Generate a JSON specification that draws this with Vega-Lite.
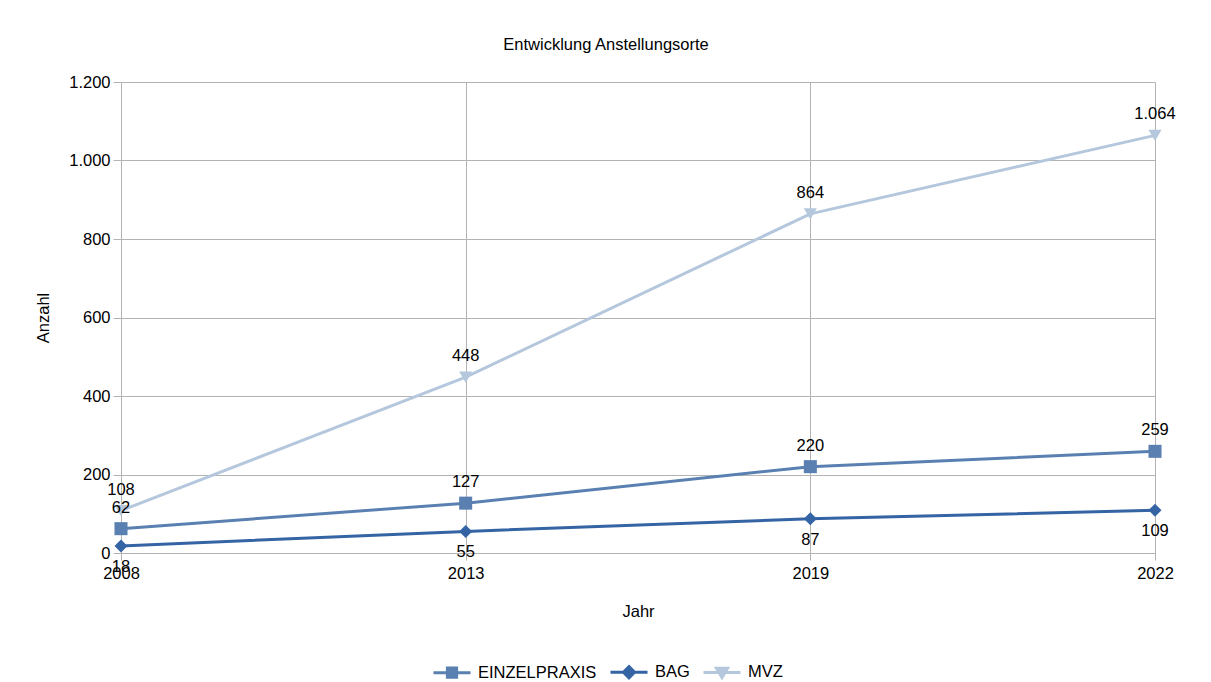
{
  "$schema": "https://vega.github.io/schema/vega-lite/v6.json",
  "width": 1034,
  "height": 471,
  "autosize": "none",
  "padding": {"left": 121, "top": 82, "right": 56, "bottom": 129},
  "background": "white",
  "title": {"text": "Entwicklung Anstellungsorte", "fontSize": 16.5, "fontWeight": "normal", "font": "Liberation Sans", "color": "black", "offset": 21, "dx": -32, "anchor": "middle"},
  "config": {
    "locale": {"number": {"decimal": ",", "thousands": ".", "grouping": [3], "currency": ["", " €"]}},
    "font": "Liberation Sans",
    "view": {"stroke": null}
  },
  "data": {"values": [
    {"Jahr": "2008", "Ort": "EINZELPRAXIS", "Anzahl": 62},
    {"Jahr": "2013", "Ort": "EINZELPRAXIS", "Anzahl": 127},
    {"Jahr": "2019", "Ort": "EINZELPRAXIS", "Anzahl": 220},
    {"Jahr": "2022", "Ort": "EINZELPRAXIS", "Anzahl": 259},
    {"Jahr": "2008", "Ort": "BAG", "Anzahl": 18},
    {"Jahr": "2013", "Ort": "BAG", "Anzahl": 55},
    {"Jahr": "2019", "Ort": "BAG", "Anzahl": 87},
    {"Jahr": "2022", "Ort": "BAG", "Anzahl": 109},
    {"Jahr": "2008", "Ort": "MVZ", "Anzahl": 108},
    {"Jahr": "2013", "Ort": "MVZ", "Anzahl": 448},
    {"Jahr": "2019", "Ort": "MVZ", "Anzahl": 864},
    {"Jahr": "2022", "Ort": "MVZ", "Anzahl": 1064}
  ]},
  "encoding": {
    "x": {"field": "Jahr", "type": "ordinal", "scale": {"type": "point", "padding": 0},
      "axis": {"title": "Jahr", "labelAngle": 0, "labelFontSize": 16.5, "labelColor": "black", "titleFontSize": 16.5, "titleFontWeight": "normal", "titleColor": "black", "tickSize": 7, "tickColor": "#b3b3b3", "domainColor": "#b3b3b3", "grid": true, "gridColor": "#b3b3b3", "labelPadding": 5, "titlePadding": 22}},
    "y": {"field": "Anzahl", "type": "quantitative", "scale": {"domain": [0, 1200], "nice": false},
      "axis": {"title": "Anzahl", "values": [0, 200, 400, 600, 800, 1000, 1200], "format": ",d", "labelFontSize": 16.5, "labelColor": "black", "titleFontSize": 16.5, "titleFontWeight": "normal", "titleColor": "black", "tickSize": 8, "tickColor": "#b3b3b3", "domainColor": "#b3b3b3", "gridColor": "#b3b3b3", "labelPadding": 3, "titlePadding": 17}},
    "color": {"field": "Ort", "type": "nominal",
      "scale": {"domain": ["EINZELPRAXIS", "BAG", "MVZ"], "range": ["#5a80b1", "#3464a4", "#b4c7dc"]},
      "legend": {"title": null, "orient": "none", "direction": "horizontal", "legendX": 311, "legendY": 570, "labelFontSize": 16.5, "labelColor": "black", "symbolSize": 1369, "symbolType": "M-1,0H1", "labelOffset": 6, "columnPadding": 7,
        "encode": {"symbols": {"update": {
          "shape": {"signal": "datum.value === 'EINZELPRAXIS' ? 'M-1,0H1M-0.25,-0.25H0.25V0.25H-0.25Z' : datum.value === 'BAG' ? 'M-1,0H1M0,-0.3L0.3,0L0,0.3L-0.3,0Z' : 'M-1,0H1M-0.3,-0.22H0.3L0,0.28Z'"},
          "fill": {"signal": "scale('color', datum.value)"},
          "stroke": {"signal": "scale('color', datum.value)"},
          "strokeWidth": {"value": 3},
          "opacity": {"value": 1}
        }}}}
    }
  },
  "layer": [
    {"mark": {"type": "line", "strokeWidth": 3}},
    {"transform": [{"filter": "datum.Ort === 'EINZELPRAXIS'"}],
      "mark": {"type": "point", "shape": "square", "filled": true, "size": 170, "opacity": 1}},
    {"transform": [{"filter": "datum.Ort === 'BAG'"}],
      "mark": {"type": "point", "shape": "diamond", "filled": true, "size": 170, "opacity": 1}},
    {"transform": [{"filter": "datum.Ort === 'MVZ'"}],
      "mark": {"type": "point", "shape": "triangle-down", "filled": true, "size": 170, "opacity": 1}},
    {"transform": [{"filter": "datum.Ort !== 'BAG'"}],
      "mark": {"type": "text", "dy": -21, "fontSize": 16.5, "color": "black"},
      "encoding": {"text": {"field": "Anzahl", "type": "quantitative", "format": ",d"}, "color": {"value": "black"}}},
    {"transform": [{"filter": "datum.Ort === 'BAG'"}],
      "mark": {"type": "text", "dy": 21, "fontSize": 16.5, "color": "black"},
      "encoding": {"text": {"field": "Anzahl", "type": "quantitative", "format": ",d"}, "color": {"value": "black"}}}
  ]
}
